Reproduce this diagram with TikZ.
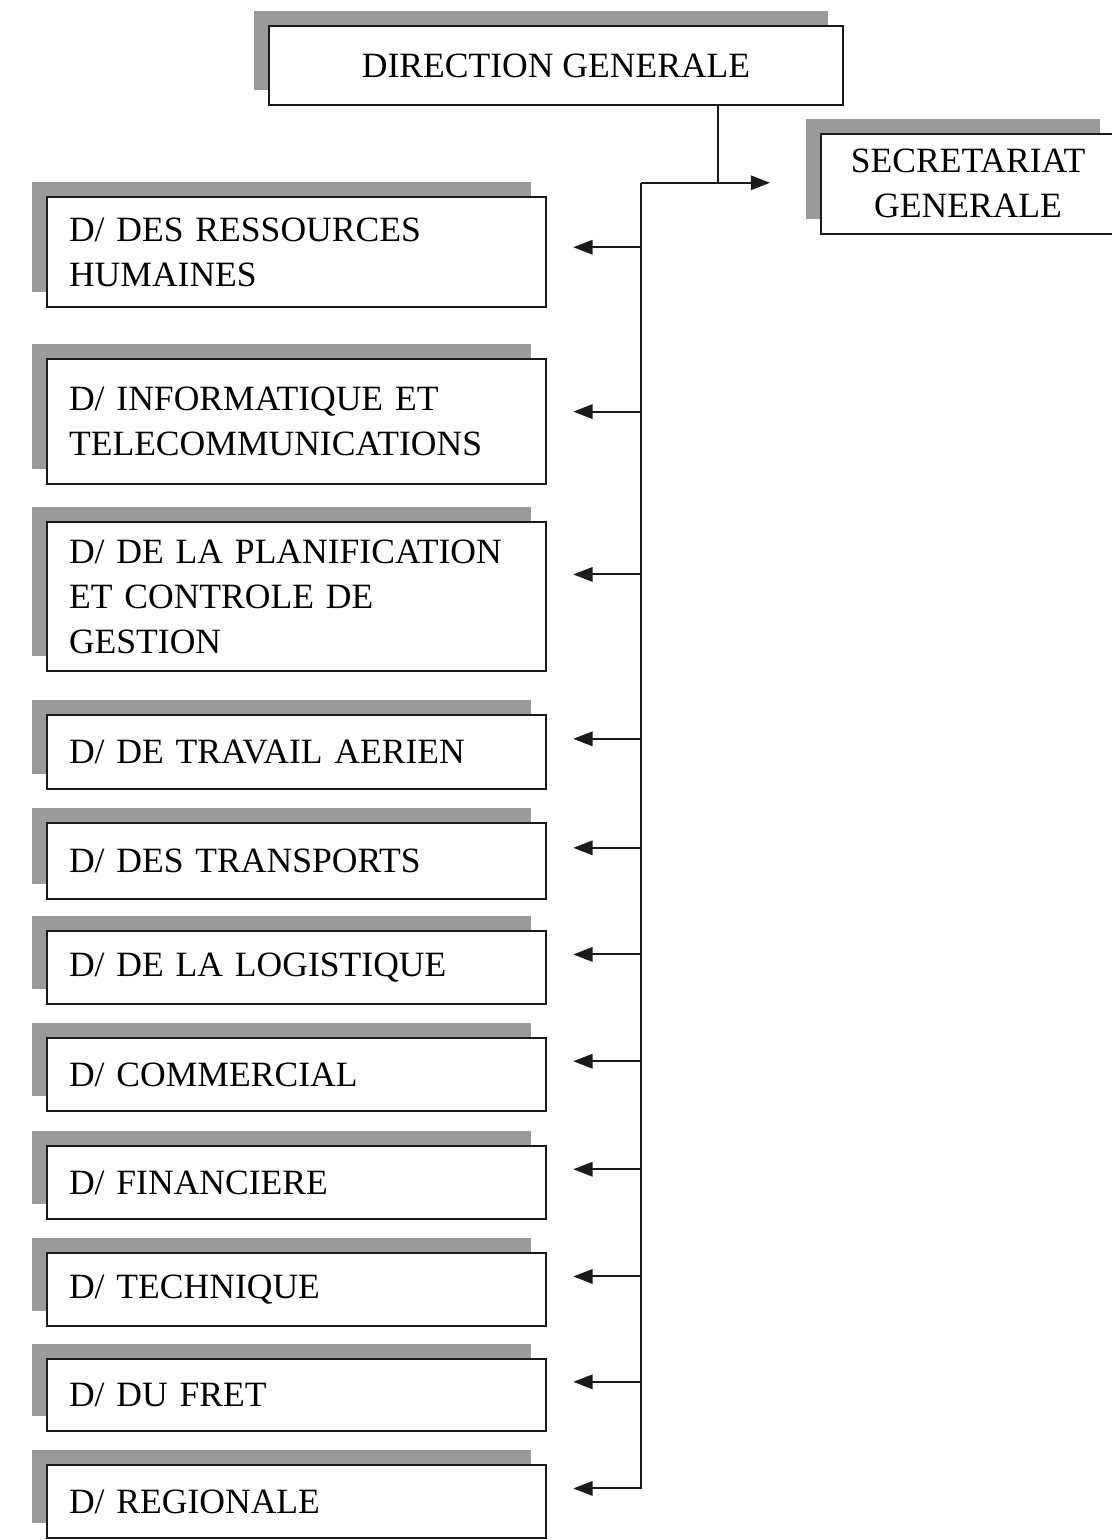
\documentclass[tikz,border=0pt]{standalone}
\usepackage{fontspec}
\setmainfont{Liberation Serif}
\usepackage{tikz}
\usetikzlibrary{shadows,arrows.meta}
\definecolor{ORGInk}{HTML}{1A1A1A}
\definecolor{ORGShade}{HTML}{9A9A9A}

\begin{document}
\begin{tikzpicture}[x=1cm,y=1cm,
  box/.style={draw=ORGInk,line width=1.5pt,fill=white,
    drop shadow={shadow xshift=-0.38cm,shadow yshift=0.37cm,fill=ORGShade,opacity=1},
    font=\fontsize{25.3}{32}\selectfont},
  dirbox/.style={box,anchor=north west,text width=11.38cm,inner xsep=0.55cm,inner ysep=0pt,align=left,minimum height=1.83cm},
  link/.style={ORGInk,line width=1.4pt},
  arr/.style={link,-{Triangle[length=0.48cm,width=0.36cm]}}]
\path[use as bounding box] (0,0) rectangle (27.80,38.50);
% top level
\node[box,anchor=north west,minimum width=14.35cm,minimum height=1.98cm] (dg) at (6.70,37.88) {DIRECTION GENERALE};
\node[box,anchor=north west,align=center,minimum width=7.35cm,minimum height=2.50cm] (sg) at (20.50,35.18) {SECRETARIAT\\GENERALE};
% directions
\node[dirbox,minimum height=2.75cm] (b1) at (1.15,33.60) {D/ DES RESSOURCES\\HUMAINES};
\node[dirbox,minimum height=3.13cm] (b2) at (1.15,29.55) {D/ INFORMATIQUE ET\\TELECOMMUNICATIONS};
\node[dirbox,minimum height=3.73cm] (b3) at (1.15,25.48) {D/ DE LA PLANIFICATION\\ET CONTROLE DE\\GESTION};
\node[dirbox,minimum height=1.85cm] (b4) at (1.15,20.65) {D/ DE TRAVAIL AERIEN};
\node[dirbox,minimum height=1.90cm] (b5) at (1.15,17.95) {D/ DES TRANSPORTS};
\node[dirbox] (b6) at (1.15,15.25) {D/ DE LA LOGISTIQUE};
\node[dirbox] (b7) at (1.15,12.58) {D/ COMMERCIAL};
\node[dirbox] (b8) at (1.15,9.88) {D/ FINANCIERE};
\node[dirbox] (b9) at (1.15,7.20) {D/ TECHNIQUE};
\node[dirbox,minimum height=1.80cm] (b10) at (1.15,4.55) {D/ DU FRET};
\node[dirbox] (b11) at (1.15,1.90) {D/ REGIONALE};
% links
\coordinate (hub) at (17.95,33.93);
\coordinate (top) at (16.03,33.93);
\draw[link] (dg.south -| hub) -- (hub);
\draw[arr,shorten >=1.25cm] (top) -- (hub -| sg.west);
\coordinate (e1) at ([yshift=0.12cm]b1.east);
\coordinate (e2) at ([yshift=0.25cm]b2.east);
\coordinate (e3) at ([yshift=0.55cm]b3.east);
\coordinate (e4) at ([yshift=0.33cm]b4.east);
\coordinate (e5) at ([yshift=0.33cm]b5.east);
\coordinate (e6) at ([yshift=0.33cm]b6.east);
\coordinate (e7) at ([yshift=0.33cm]b7.east);
\coordinate (e8) at ([yshift=0.33cm]b8.east);
\coordinate (e9) at ([yshift=0.33cm]b9.east);
\coordinate (e10) at ([yshift=0.33cm]b10.east);
\coordinate (e11) at ([yshift=0.33cm]b11.east);
\draw[arr,shorten >=0.65cm] (top) -- (e11 -| top) -- (e11);
\draw[arr,shorten >=0.65cm] (e1 -| top) -- (e1);
\draw[arr,shorten >=0.65cm] (e2 -| top) -- (e2);
\draw[arr,shorten >=0.65cm] (e3 -| top) -- (e3);
\draw[arr,shorten >=0.65cm] (e4 -| top) -- (e4);
\draw[arr,shorten >=0.65cm] (e5 -| top) -- (e5);
\draw[arr,shorten >=0.65cm] (e6 -| top) -- (e6);
\draw[arr,shorten >=0.65cm] (e7 -| top) -- (e7);
\draw[arr,shorten >=0.65cm] (e8 -| top) -- (e8);
\draw[arr,shorten >=0.65cm] (e9 -| top) -- (e9);
\draw[arr,shorten >=0.65cm] (e10 -| top) -- (e10);
\end{tikzpicture}
\end{document}
